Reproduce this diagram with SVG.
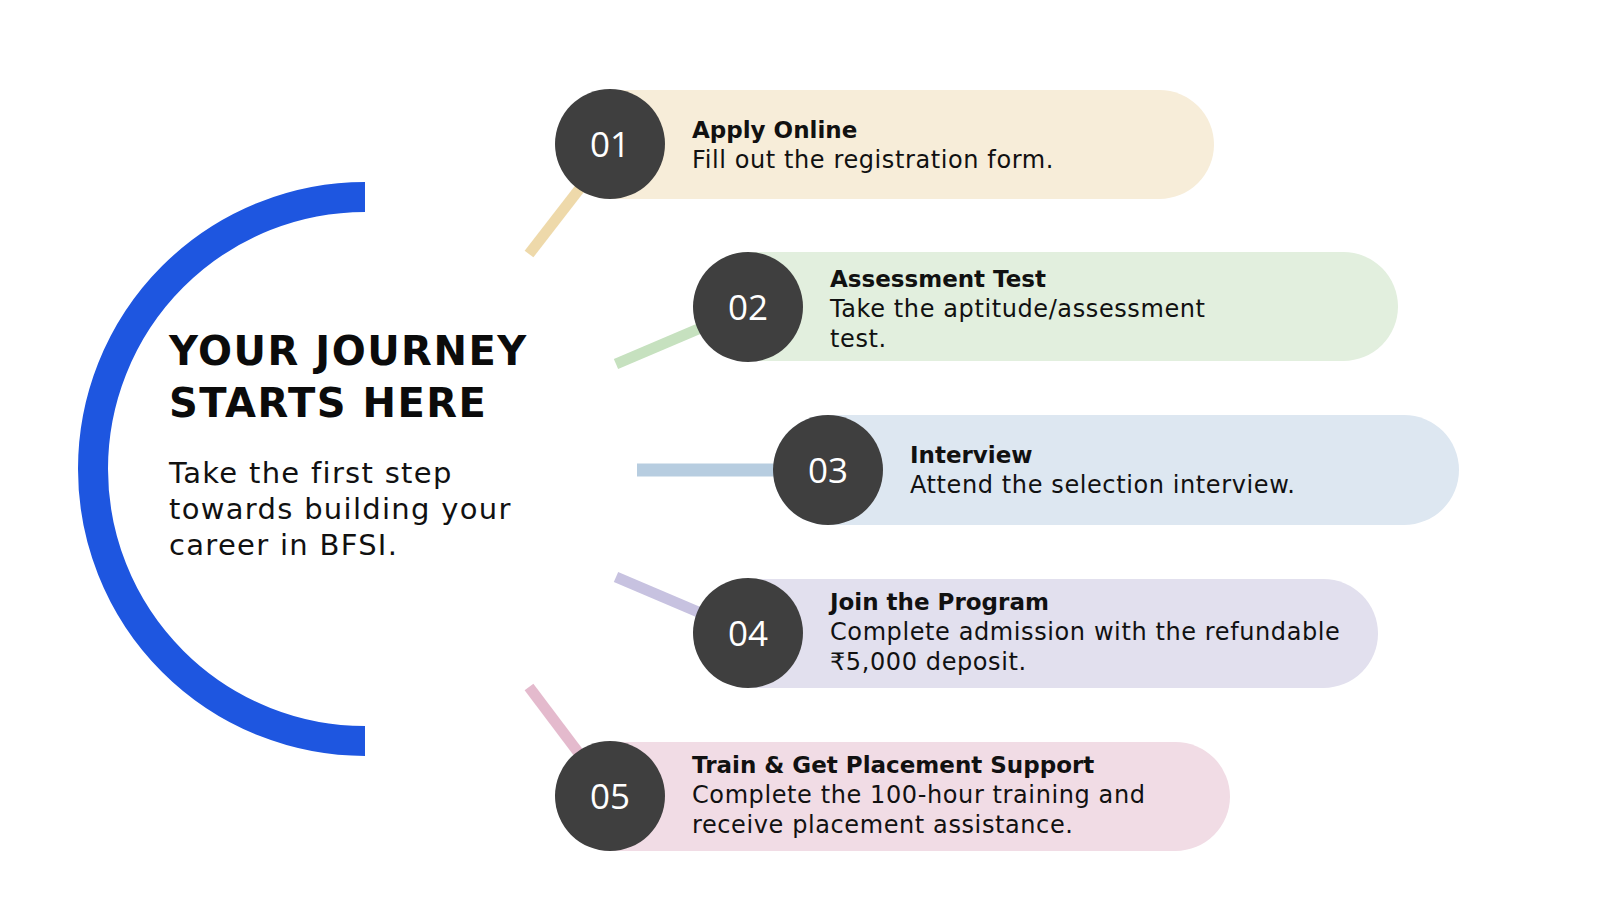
<svg xmlns="http://www.w3.org/2000/svg" width="1600" height="900" viewBox="0 0 1600 900">
<style>
.title{font-family:"DejaVu Sans","Open Sans",sans-serif;font-weight:700;font-size:40px;fill:#0b0b0b;letter-spacing:1.5px}
.lead{font-family:"DejaVu Sans","Open Sans",sans-serif;font-size:29px;fill:#111;letter-spacing:1.3px}
.num{font-family:"Open Sans","Liberation Sans",sans-serif;font-size:35px;fill:#fff;text-anchor:middle}
.h{font-family:"DejaVu Sans","Open Sans",sans-serif;font-weight:700;font-size:23px;fill:#111}
.d{font-family:"DejaVu Sans","Open Sans",sans-serif;font-size:24px;fill:#111;letter-spacing:0.6px}
.dot{fill:#3f3f3f}
.conn{stroke-width:11;fill:none}
</style>
<rect width="1600" height="900" fill="#fff"/>
<g id="arc">
<path d="M365 197 A272 272 0 0 0 365 741" fill="none" stroke="#1e56e0" stroke-width="30"/>
</g>
<g id="intro">
<text class="title" x="169" y="365">YOUR JOURNEY</text>
<text class="title" x="169" y="417">STARTS HERE</text>
<text class="lead" x="169" y="483">Take the first step</text>
<text class="lead" x="169" y="519">towards building your</text>
<text class="lead" x="169" y="555">career in BFSI.</text>
</g>
<g id="connectors">
<line class="conn" x1="529" y1="254" x2="584" y2="183" stroke="#eed9aa"/>
<line class="conn" x1="616" y1="364" x2="710" y2="324" stroke="#c6e1bf"/>
<line x1="637" y1="470" x2="790" y2="470" stroke="#b7cde0" stroke-width="13"/>
<line class="conn" x1="616" y1="577" x2="710" y2="617" stroke="#c7c2e0"/>
<line class="conn" x1="529" y1="687" x2="584" y2="760" stroke="#e4bacd"/>
</g>
<g id="step1">
<rect x="556" y="90" width="658" height="109" rx="54.5" fill="#f7edd9"/>
<circle class="dot" cx="610" cy="144" r="55"/>
<text class="num" x="610" y="157">01</text>
<text class="h" x="692" y="138">Apply Online</text>
<text class="d" x="692" y="168">Fill out the registration form.</text>
</g>
<g id="step2">
<rect x="694" y="252" width="704" height="109" rx="54.5" fill="#e2efde"/>
<circle class="dot" cx="748" cy="307" r="55"/>
<text class="num" x="748" y="320">02</text>
<text class="h" x="830" y="287">Assessment Test</text>
<text class="d" x="830" y="317">Take the aptitude/assessment</text>
<text class="d" x="830" y="347">test.</text>
</g>
<g id="step3">
<rect x="773" y="415" width="686" height="110" rx="55" fill="#dde7f1"/>
<circle class="dot" cx="828" cy="470" r="55"/>
<text class="num" x="828" y="483">03</text>
<text class="h" x="910" y="463">Interview</text>
<text class="d" x="910" y="493">Attend the selection interview.</text>
</g>
<g id="step4">
<rect x="694" y="579" width="684" height="109" rx="54.5" fill="#e2e0ee"/>
<circle class="dot" cx="748" cy="633" r="55"/>
<text class="num" x="748" y="646">04</text>
<text class="h" x="830" y="610">Join the Program</text>
<text class="d" x="830" y="640">Complete admission with the refundable</text>
<text class="d" x="830" y="670">₹5,000 deposit.</text>
</g>
<g id="step5">
<rect x="556" y="742" width="674" height="109" rx="54.5" fill="#f1dce5"/>
<circle class="dot" cx="610" cy="796" r="55"/>
<text class="num" x="610" y="809">05</text>
<text class="h" x="692" y="773">Train &amp; Get Placement Support</text>
<text class="d" x="692" y="803">Complete the 100-hour training and</text>
<text class="d" x="692" y="833">receive placement assistance.</text>
</g>
</svg>
